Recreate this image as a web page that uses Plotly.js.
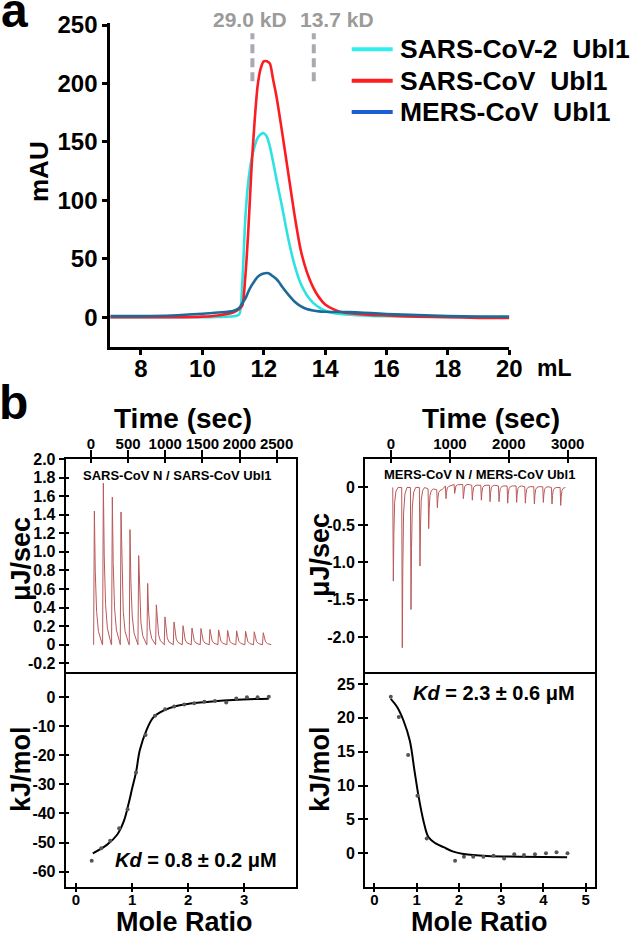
<!DOCTYPE html>
<html><head><meta charset="utf-8">
<script src="https://cdn.plot.ly/plotly-3.0.1.min.js"></script>
<style>html,body{margin:0;padding:0;background:#fff;} #chart{width:630px;height:936px;}</style>
</head><body><div id="chart"></div>
<script>
// ---------------- DATA ----------------
// Panel a: size-exclusion chromatography (elution volume, mL; absorbance, mAU)
const volume = [7, 8, 9, 10, 10.5, 11, 11.2, 11.3, 11.4, 11.5, 11.6, 11.7, 11.8, 11.9, 12.0, 12.1, 12.2, 12.3, 12.4, 12.5, 12.6, 12.8, 13.0, 13.2, 13.4, 13.6, 13.8, 14.0, 14.3, 14.6, 15, 15.5, 16, 17, 18, 19, 20];
const sars2Ubl1 = [0, 0, 0, 0, 0.3, 0.8, 2.5, 30, 85, 117, 135, 146, 153.5, 156.5, 157.5, 154.5, 146, 133.5, 120, 107, 94, 67, 45, 29, 19, 12.5, 8.5, 5.5, 3.5, 2.5, 1.8, 1.2, 0.8, 0.5, 0.3, 0.2, 0];
const sarsUbl1 = [0, 0, 0, 0.5, 1.5, 4, 7, 10, 35, 76, 127, 167, 198, 213, 219, 219, 217, 204, 191, 175, 158, 123, 88, 58, 39, 26, 17, 11, 6.5, 4, 3, 2, 1.5, 0.5, 0, -0.5, -0.5];
const mersUbl1 = [1, 1, 1.5, 3, 4, 5.3, 8, 12, 16, 22, 27, 31, 34.5, 36.5, 37.5, 37.8, 37, 35, 33, 30, 26, 19.3, 13.5, 9.5, 7, 5.8, 5, 4.7, 4.5, 4.5, 4.2, 3.5, 2.8, 1.8, 1, 0.6, 0.5];
const seriesNames = ['SARS-CoV-2\u00a0 Ubl1', 'SARS-CoV\u00a0 Ubl1', 'MERS-CoV\u00a0 Ubl1'];
const standardVolumes = [11.63, 13.63];
const standardLabels = ['29.0 kD', '13.7 kD'];
const standardSpan = [202, 243];
const secXTicks = [8, 10, 12, 14, 16, 18, 20];
const secYTicks = [0, 50, 100, 150, 200, 250];

// Panel b left: SARS-CoV N / SARS-CoV Ubl1 thermogram (peak time s, peak height uJ/s)
const timeL = [45, 166, 287, 404, 525, 642, 763, 880, 996, 1118, 1239, 1360, 1481, 1602, 1719, 1840, 1961, 2082, 2199, 2320];
const peakL = [1.44, 1.74, 1.59, 1.43, 1.24, 0.96, 0.66, 0.43, 0.30, 0.245, 0.205, 0.18, 0.175, 0.165, 0.16, 0.155, 0.15, 0.145, 0.14, 0.13];
// binding isotherm
const moleL = [0.28, 0.45, 0.61, 0.77, 0.92, 1.07, 1.24, 1.41, 1.59, 1.75, 1.93, 2.11, 2.29, 2.48, 2.68, 2.86, 3.05, 3.24, 3.44];
const heatL = [-56.3, -52, -49.4, -45.1, -38.5, -25.9, -13, -6.4, -4.1, -3.2, -2.5, -2.1, -1.5, -1.3, -1.8, -0.4, 0, 0, 0.2];
const fitMoleL = [0.3, 0.55, 0.73, 0.85, 0.94, 1.0, 1.07, 1.14, 1.26, 1.38, 1.56, 1.79, 2.21, 2.8, 3.44];
const fitHeatL = [-53.7, -50.8, -47.4, -42.8, -36.5, -31.5, -25.9, -18.1, -11.2, -6.9, -4.6, -3.0, -1.8, -0.9, -0.5];

// Panel b right: MERS-CoV N / MERS-CoV Ubl1 thermogram
const timeR = [40, 192, 340, 492, 640, 787, 934, 1081, 1228, 1381, 1534, 1681, 1834, 1981, 2133, 2281, 2434, 2586, 2733, 2881];
const peakR = [-1.25, -2.14, -1.63, -1.05, -0.53, -0.24, -0.17, -0.12, -0.19, -0.2, -0.2, -0.22, -0.21, -0.23, -0.22, -0.22, -0.23, -0.21, -0.22, -0.24];
const baseR = [0, 0, 0, 0, -0.02, -0.03, 0.02, 0.04, 0.04, 0.03, 0.03, 0.03, 0.02, 0.02, 0.02, 0.01, 0.01, 0.01, 0, 0];
const moleR = [0.39, 0.58, 0.80, 1.02, 1.24, 1.91, 2.12, 2.34, 2.58, 2.82, 3.07, 3.31, 3.54, 3.80, 4.06, 4.31, 4.57];
const heatR = [23.1, 20.1, 14.5, 8.5, 2.2, -1.1, -0.5, -0.5, -0.5, -0.35, -0.75, -0.15, -0.25, -0.15, 0, 0.15, 0];
const fitMoleR = [0.39, 0.54, 0.69, 0.84, 0.95, 1.05, 1.17, 1.28, 1.44, 1.64, 1.87, 2.11, 2.66, 3.45, 4.56];
const fitHeatR = [22.8, 21.6, 19.6, 16.6, 12.2, 8.3, 4.6, 2.4, 1.5, 0.9, 0.25, -0.1, -0.4, -0.5, -0.6];

const kdTexts = ['<i>Kd</i> = 0.8 ± 0.2 μM', '<i>Kd</i> = 2.3 ± 0.6 μM'];
const itcTitles = ['SARS-CoV N / SARS-CoV Ubl1', 'MERS-CoV N / MERS-CoV Ubl1'];

// ---------------- HELPERS ----------------
const W = 630, H = 936;
const PX = x => x / W;
const PY = y => 1 - y / H;
const FONT = 'Liberation Sans, Arial, Helvetica, sans-serif';
const bold = (size, color) => ({family: FONT, size: size, color: color || '#000', weight: 'bold'});

function thermogram(times, peaks, bases, shape) {
  const xs = [], ys = [];
  times.forEach((t, i) => {
    const b = bases ? bases[i] : 0, p = peaks[i];
    shape.forEach(s => { xs.push(t + s[0]); ys.push(b + s[1] * p); });
  });
  return {x: xs, y: ys};
}
const shapeL = [[-10, 0], [0, 1], [12, 0.55], [30, 0.25], [55, 0.1], [85, 0.03], [108, 0]];
const shapeR = [[-10, 0], [0, 1], [9, 0.5], [22, 0.16], [45, 0.04], [80, 0]];

const fmt1 = v => (v === 0 ? '0' : v.toFixed(1));

// ---------------- TRACES ----------------
const traces = [];
const secColors = ['#2fe2e2', '#fb1d22', '#1d6a99'];
[sars2Ubl1, sarsUbl1, mersUbl1].forEach((ys, i) => {
  traces.push({x: volume, y: ys, name: seriesNames[i], type: 'scatter', mode: 'lines',
    line: {color: secColors[i], width: 2.6, shape: 'spline', smoothing: 0.7},
    xaxis: 'x', yaxis: 'y', hoverinfo: 'skip'});
});
standardVolumes.forEach(v => {
  traces.push({x: [v, v], y: standardSpan, type: 'scatter', mode: 'lines',
    line: {color: '#a9aab0', width: 4, dash: '9px,5px'}, xaxis: 'x', yaxis: 'y', hoverinfo: 'skip', cliponaxis: false});
});

const thL = thermogram(timeL, peakL, null, shapeL);
traces.push({x: thL.x, y: thL.y, type: 'scatter', mode: 'lines', line: {color: '#b9595a', width: 1}, xaxis: 'x2', yaxis: 'y2', hoverinfo: 'skip'});
traces.push({x: fitMoleL, y: fitHeatL, type: 'scatter', mode: 'lines', line: {color: '#000', width: 2, shape: 'spline'}, xaxis: 'x3', yaxis: 'y3', hoverinfo: 'skip'});
traces.push({x: moleL, y: heatL, type: 'scatter', mode: 'markers', marker: {color: '#555', size: 4}, xaxis: 'x3', yaxis: 'y3', hoverinfo: 'skip'});

const thR = thermogram(timeR, peakR, baseR, shapeR);
traces.push({x: thR.x, y: thR.y, type: 'scatter', mode: 'lines', line: {color: '#b9595a', width: 1}, xaxis: 'x4', yaxis: 'y4', hoverinfo: 'skip'});
traces.push({x: fitMoleR, y: fitHeatR, type: 'scatter', mode: 'lines', line: {color: '#000', width: 2, shape: 'spline'}, xaxis: 'x5', yaxis: 'y5', hoverinfo: 'skip'});
traces.push({x: moleR, y: heatR, type: 'scatter', mode: 'markers', marker: {color: '#555', size: 4}, xaxis: 'x5', yaxis: 'y5', hoverinfo: 'skip'});

// ---------------- LAYOUT ----------------
const base = {showgrid: false, zeroline: false, showline: true, linecolor: '#000', tickcolor: '#000', fixedrange: true, tickmode: 'array'};
const layout = {
  width: W, height: H, margin: {l: 0, r: 0, t: 0, b: 0},
  paper_bgcolor: '#fff', plot_bgcolor: 'rgba(0,0,0,0)', showlegend: false,
  font: {family: FONT, color: '#000'},
  xaxis: Object.assign({}, base, {domain: [PX(110.3), PX(509.3)], range: [7, 20], anchor: 'y',
    tickvals: secXTicks, ticktext: secXTicks.map(String), ticks: 'outside', ticklen: 5, tickwidth: 3, linewidth: 3,
    tickfont: bold(24), ticklabelstandoff: -7}),
  yaxis: Object.assign({}, base, {domain: [PY(346.7), PY(23.3)], range: [-25.2, 251.5], anchor: 'x',
    tickvals: secYTicks, ticktext: secYTicks.map(String), ticks: 'outside', ticklen: 5, tickwidth: 3, linewidth: 3, tickfont: bold(24)}),
  annotations: [], shapes: []
};

const itc = [
  {xu: 'xaxis2', yu: 'yaxis2', xl: 'xaxis3', yl: 'yaxis3', left: 65.7, right: 295.7,
   tRange: [-341, 2757], tTicks: [0, 500, 1000, 1500, 2000, 2500],
   uRange: [-0.29, 2.0], uTicks: [2.0, 1.8, 1.6, 1.4, 1.2, 1.0, 0.8, 0.6, 0.4, 0.2, 0, -0.2],
   mRange: [-0.184, 3.92], mTicks: [0, 1, 2, 3],
   lRange: [-65.2, 8.8], lTicks: [0, -10, -20, -30, -40, -50, -60]},
  {xu: 'xaxis4', yu: 'yaxis4', xl: 'xaxis5', yl: 'yaxis5', left: 365, right: 595,
   tRange: [-441, 3463], tTicks: [0, 1000, 2000, 3000],
   uRange: [-2.46, 0.38], uTicks: [0, -0.5, -1.0, -1.5, -2.0],
   mRange: [-0.22, 5.22], mTicks: [0, 1, 2, 3, 4, 5],
   lRange: [-4.93, 26.8], lTicks: [0, 5, 10, 15, 20, 25]}
];
const TOP = 459, MID = 671.7, BOT = 886.7;
let twinN = 6;
itc.forEach((p) => {
  const xd = [PX(p.left), PX(p.right)];
  const n = (s) => s.replace('axis', '');
  const common = Object.assign({}, base, {linewidth: 2, tickwidth: 2});
  layout[p.xu] = Object.assign({}, common, {domain: xd, anchor: n(p.yu), side: 'top', range: p.tRange, mirror: true,
    tickvals: p.tTicks, ticktext: p.tTicks.map(String), ticks: 'outside', ticklen: 7, tickfont: bold(15), ticklabelstandoff: -5});
  layout[p.yu] = Object.assign({}, common, {domain: [PY(MID), PY(TOP)], anchor: n(p.xu), range: p.uRange, mirror: true,
    tickvals: p.uTicks, ticktext: p.uTicks.map(fmt1), ticks: 'outside', ticklen: 5, tickfont: bold(16)});
  layout[p.xl] = Object.assign({}, common, {domain: xd, anchor: n(p.yl), side: 'bottom', range: p.mRange, mirror: false,
    tickvals: p.mTicks, ticktext: p.mTicks.map(String), ticks: 'outside', ticklen: 3, tickfont: bold(15), ticklabelstandoff: -5});
  layout[p.yl] = Object.assign({}, common, {domain: [PY(BOT), PY(MID)], anchor: n(p.xl), range: p.lRange, mirror: true,
    tickvals: p.lTicks, ticktext: p.lTicks.map(String), ticks: 'outside', ticklen: 5, tickfont: bold(16)});
  // inner halves of the crossing ticks
  [[p.xu, p.yu, 'x', 'top', 4], [p.yu, p.xu, 'y', 'left', 3], [p.xl, p.yl, 'x', 'bottom', 4], [p.yl, p.xl, 'y', 'left', 3]].forEach(([ax, anc, dir, side, len]) => {
    const name = (dir === 'x' ? 'xaxis' : 'yaxis') + twinN;
    const src = layout[ax];
    layout[name] = {overlaying: n(ax), anchor: n(anc), side: side, range: src.range, tickmode: 'array', tickvals: src.tickvals,
      ticks: 'inside', ticklen: len, tickwidth: 2, tickcolor: '#000', showticklabels: false, showline: false,
      showgrid: false, zeroline: false, fixedrange: true};
    traces.push(dir === 'x' ? {x: [], y: [], xaxis: 'x' + twinN, yaxis: n(anc), type: 'scatter', hoverinfo: 'skip'}
                            : {x: [], y: [], xaxis: n(anc), yaxis: 'y' + twinN, type: 'scatter', hoverinfo: 'skip'});
    twinN++;
  });
});

// ---------------- TEXT ----------------
function ann(text, x, y, font, opts) {
  layout.annotations.push(Object.assign({text: text, x: PX(x), y: PY(y), xref: 'paper', yref: 'paper',
    showarrow: false, font: font, xanchor: 'center', yanchor: 'middle'}, opts || {}));
}
ann('a', 14, 11, bold(48));
ann('b', 13, 402, bold(48));
ann('mAU', 39, 172, bold(26), {textangle: -90});
ann('mL', 535, 368, bold(23), {xanchor: 'left'});
ann(standardLabels[0], 250.5, 19, bold(21, '#9b9b9b'));
ann(standardLabels[1], 337, 19, bold(21, '#9b9b9b'));
// legend
const legendColors = ['#31eeee', '#fd1d1d', '#1b5fd2'];
const legendRows = [49.3, 80.7, 112];
seriesNames.forEach((s, i) => {
  layout.shapes.push({type: 'line', xref: 'paper', yref: 'paper', x0: PX(351.7), x1: PX(392.7), y0: PY(legendRows[i]), y1: PY(legendRows[i]),
    line: {color: legendColors[i], width: 4}});
  ann(s, 398, legendRows[i], bold(26.5), {xanchor: 'left'});
});
// ITC text
ann('Time (sec)', 182.5, 419, bold(28));
ann('Time (sec)', 490.5, 419, bold(28));
ann(itcTitles[0], 177, 475, bold(13));
ann(itcTitles[1], 479, 474, bold(13));
ann('μJ/sec', 21, 559, bold(27), {textangle: -90});
ann('μJ/sec', 320, 555, bold(27), {textangle: -90});
ann('kJ/mol', 21, 769, bold(27), {textangle: -90});
ann('kJ/mol', 320, 769, bold(27), {textangle: -90});
ann('Mole Ratio', 184, 922, bold(27));
ann('Mole Ratio', 479, 922, bold(27));
ann(kdTexts[0], 196, 860, bold(20));
ann(kdTexts[1], 494, 693, bold(20));

Plotly.newPlot('chart', traces, layout, {staticPlot: true, displayModeBar: false});
</script></body></html>
